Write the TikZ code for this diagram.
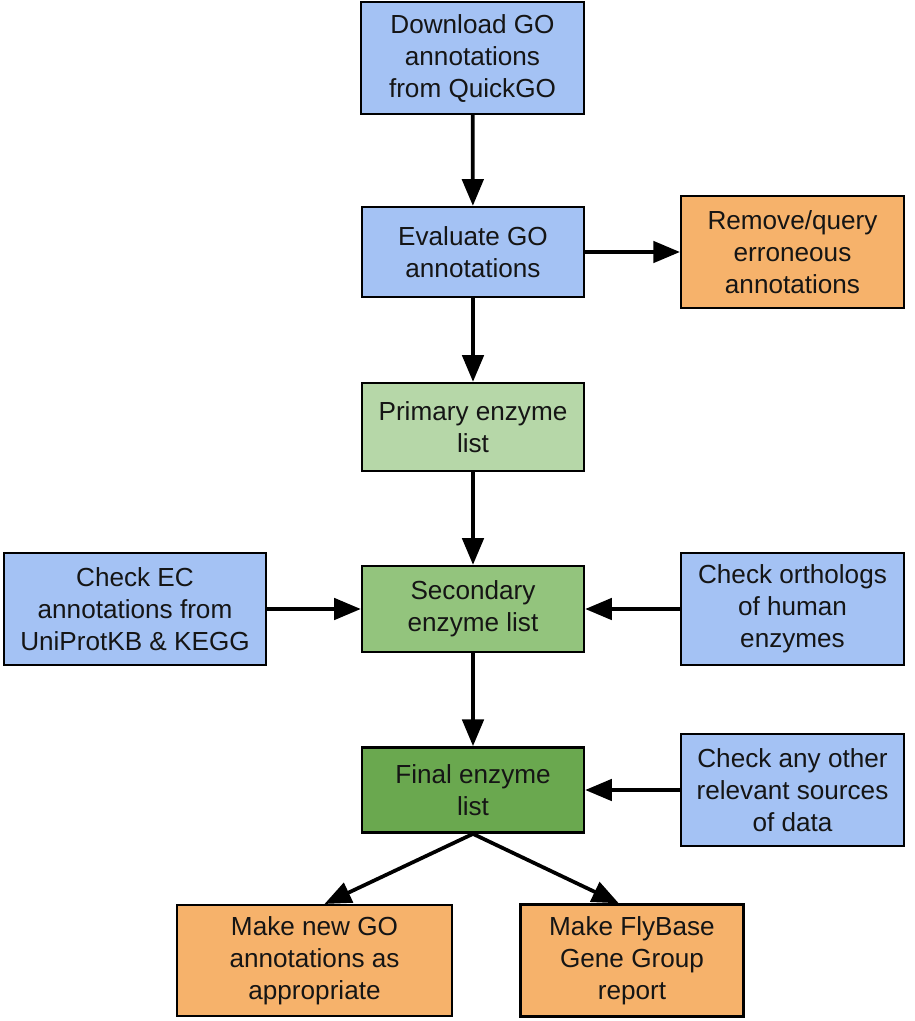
\documentclass[tikz,border=0pt]{standalone}
\usepackage{fontspec}
\setmainfont{Liberation Sans}
\usepackage{xcolor}
\usetikzlibrary{arrows.meta}

\definecolor{stepblue}{HTML}{A4C2F4}
\definecolor{steporange}{HTML}{F6B26B}
\definecolor{listpale}{HTML}{B6D7A8}
\definecolor{listmid}{HTML}{93C47D}
\definecolor{listdark}{HTML}{6AA84F}
\definecolor{inkgray}{HTML}{151515}

\tikzset{
  box/.style={draw=black, line width=1.8pt, rectangle, align=center, inner sep=0pt,
    text=inkgray, font=\fontsize{19.6}{24}\selectfont},
  wide/.style={minimum width=167pt, minimum height=84pt},
  flow/.style={-{Triangle[length=20pt,width=16pt]}, line width=2.8pt}
}

\begin{document}
\begin{tikzpicture}[x=0.75pt, y=-0.75pt]
  \useasboundingbox (0,0) rectangle (914,1021);
  \node (dl) at (472.5,58) [box, wide, fill=stepblue] {Download GO\\annotations\\from QuickGO};
  \node (eval) at (473,252) [box, fill=stepblue, minimum width=166.5pt, minimum height=67.5pt] {Evaluate GO\\annotations};
  \node (rmv) at (792.5,252) [box, wide, fill=steporange] {Remove/query\\erroneous\\annotations};
  \node (prim) at (473,427) [box, fill=listpale, minimum width=166.5pt, minimum height=66pt] {Primary enzyme\\list};
  \node (sec) at (473,609) [box, fill=listmid, minimum width=166.5pt, minimum height=64.5pt] {Secondary\\enzyme list};
  \node (ec) at (135,609) [box, fill=stepblue, minimum width=196.5pt, minimum height=84pt] {Check EC\\annotations from\\UniProtKB \& KEGG};
  \node (orth) at (792.5,609) [box, wide, fill=stepblue] {Check orthologs\\of human\\enzymes};
  \node (fin) at (473,790) [box, fill=listdark, minimum width=166.5pt, minimum height=64pt] {Final enzyme\\list};
  \node (other) at (792.5,790) [box, wide, fill=stepblue] {Check any other\\relevant sources\\of data};
  \node (newgo) at (314.5,960.5) [box, fill=steporange, minimum width=206pt, minimum height=83pt] {Make new GO\\annotations as\\appropriate};
  \node (fly) at (632,960.5) [box, wide, fill=steporange] {Make FlyBase\\Gene Group\\report};

  \draw[flow] (dl) -- (eval);
  \draw[flow] (eval) -- (rmv);
  \draw[flow] (eval) -- (prim);
  \draw[flow] (prim) -- (sec);
  \draw[flow] (ec) -- (sec);
  \draw[flow] (orth) -- (sec);
  \draw[flow] (sec) -- (fin);
  \draw[flow] (other) -- (fin);
  \draw[flow] (fin.south) -- (newgo.80);
  \draw[flow] (fin.south) -- (fly.103);
\end{tikzpicture}
\end{document}
